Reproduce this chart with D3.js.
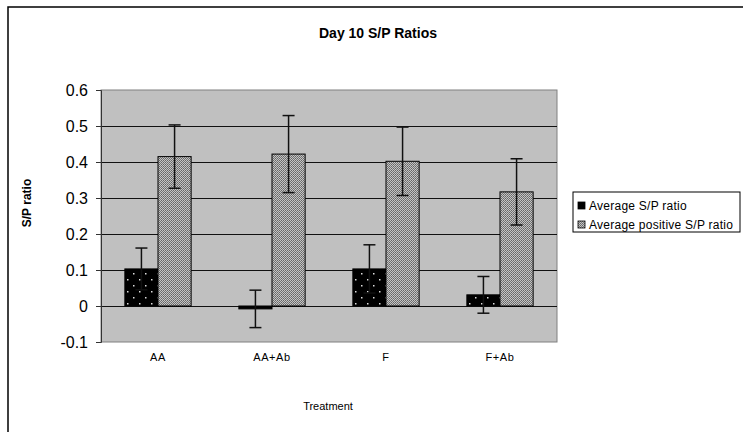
<!DOCTYPE html>
<html>
<head>
<meta charset="utf-8">
<script src="https://cdn.jsdelivr.net/npm/d3@7"></script>
<style>
  html, body { margin: 0; padding: 0; background: #fff; }
  svg { display: block; font-family: "Liberation Sans", Arial, sans-serif; }
</style>
</head>
<body>
<svg width="743" height="432"></svg>
<script>
const categories = ['AA', 'AA+Ab', 'F', 'F+Ab'];
const seriesNames = ['Average S/P ratio', 'Average positive S/P ratio'];
const avgRatio = [0.103, -0.008, 0.103, 0.031];
const avgRatioErr = [0.058, 0.052, 0.067, 0.051];
const posRatio = [0.415, 0.422, 0.402, 0.317];
const posRatioErr = [0.088, 0.107, 0.095, 0.092];
const yTicks = [-0.1, 0, 0.1, 0.2, 0.3, 0.4, 0.5, 0.6];

const svg = d3.select('svg');
const plot = { left: 101, right: 557, top: 90, bottom: 342 };

// patterns
const defs = svg.append('defs');
const dots = defs.append('pattern')
  .attr('id', 'dots')
  .attr('patternUnits', 'userSpaceOnUse')
  .attr('width', 12).attr('height', 12);
dots.append('rect').attr('width', 12).attr('height', 12).attr('fill', '#000');
dots.append('rect').attr('x', 2).attr('y', 3).attr('width', 1.5).attr('height', 1.5).attr('fill', '#ddd');
dots.append('rect').attr('x', 8).attr('y', 9).attr('width', 1.5).attr('height', 1.5).attr('fill', '#ddd');

const checker = defs.append('pattern')
  .attr('id', 'checker')
  .attr('patternUnits', 'userSpaceOnUse')
  .attr('width', 2).attr('height', 2);
checker.append('rect').attr('width', 2).attr('height', 2).attr('fill', '#c4c4c4');
checker.append('rect').attr('width', 1).attr('height', 1).attr('fill', '#666');
checker.append('rect').attr('x', 1).attr('y', 1).attr('width', 1).attr('height', 1).attr('fill', '#777');

// outer frame
svg.append('rect')
  .attr('x', 8).attr('y', 7)
  .attr('width', 760).attr('height', 460)
  .attr('fill', 'none')
  .attr('stroke', '#000')
  .attr('stroke-width', 1.5);

const x = d3.scaleBand()
  .domain(categories)
  .range([plot.left, plot.right]);

const x1 = d3.scaleBand()
  .domain(seriesNames)
  .range([0, x.bandwidth()])
  .paddingOuter(0.72)
  .paddingInner(0);

const y = d3.scaleLinear()
  .domain([-0.1, 0.6])
  .range([plot.bottom, plot.top]);

// plot background
svg.append('rect')
  .attr('x', plot.left).attr('y', plot.top)
  .attr('width', plot.right - plot.left)
  .attr('height', plot.bottom - plot.top)
  .attr('fill', '#c0c0c0')
  .attr('stroke', '#808080')
  .attr('stroke-width', 1);

// gridlines
svg.append('g')
  .selectAll('line')
  .data(yTicks.filter((d) => d > -0.1 && d < 0.6))
  .enter()
  .append('line')
  .attr('x1', plot.left).attr('x2', plot.right)
  .attr('y1', (d) => Math.round(y(d)) + 0.5)
  .attr('y2', (d) => Math.round(y(d)) + 0.5)
  .attr('stroke', '#111')
  .attr('stroke-width', 1);

// y axis
const yAxis = svg.append('g')
  .attr('transform', `translate(${plot.left},0)`)
  .call(d3.axisLeft(y).tickValues(yTicks).tickSize(5).tickPadding(8)
    .tickFormat((d) => (d === 0 ? '0' : d.toFixed(1))));
yAxis.select('.domain').attr('stroke', '#333');
yAxis.selectAll('.tick line').attr('stroke', '#333');
yAxis.selectAll('.tick text')
  .attr('font-size', 16)
  .attr('font-family', '"Liberation Sans", Arial, sans-serif')
  .attr('fill', '#000');

// bars
const rows = categories.map((c, i) => ({
  cat: c,
  vals: [
    { s: seriesNames[0], v: avgRatio[i], e: avgRatioErr[i], fill: 'url(#dots)' },
    { s: seriesNames[1], v: posRatio[i], e: posRatioErr[i], fill: 'url(#checker)' },
  ],
}));

const groups = svg.append('g')
  .selectAll('g')
  .data(rows)
  .enter()
  .append('g')
  .attr('transform', (d) => `translate(${x(d.cat)},0)`);

groups.selectAll('rect')
  .data((d) => d.vals)
  .enter()
  .append('rect')
  .attr('x', (d) => x1(d.s))
  .attr('y', (d) => y(Math.max(0, d.v)))
  .attr('width', x1.bandwidth())
  .attr('height', (d) => Math.max(1, Math.abs(y(d.v) - y(0))))
  .attr('fill', (d) => d.fill)
  .attr('stroke', '#000')
  .attr('stroke-width', 1);

// error bars
const errs = groups.selectAll('g.err')
  .data((d) => d.vals)
  .enter()
  .append('g')
  .attr('class', 'err')
  .attr('stroke', '#111')
  .attr('stroke-width', 1.5);

errs.append('line')
  .attr('x1', (d) => x1(d.s) + x1.bandwidth() / 2)
  .attr('x2', (d) => x1(d.s) + x1.bandwidth() / 2)
  .attr('y1', (d) => y(d.v + d.e))
  .attr('y2', (d) => y(d.v - d.e));

[1, -1].forEach((sign) => {
  errs.append('line')
    .attr('x1', (d) => x1(d.s) + x1.bandwidth() / 2 - 6)
    .attr('x2', (d) => x1(d.s) + x1.bandwidth() / 2 + 6)
    .attr('y1', (d) => y(d.v + sign * d.e))
    .attr('y2', (d) => y(d.v + sign * d.e));
});

// category labels
svg.append('g')
  .selectAll('text')
  .data(categories)
  .enter()
  .append('text')
  .attr('x', (d) => x(d) + x.bandwidth() / 2)
  .attr('y', plot.bottom + 19)
  .attr('text-anchor', 'middle')
  .attr('font-size', 11)
  .attr('letter-spacing', 0.6)
  .text((d) => d);

// titles
svg.append('text')
  .attr('x', 378).attr('y', 38)
  .attr('text-anchor', 'middle')
  .attr('font-size', 14)
  .attr('font-weight', 'bold')
  .text('Day 10 S/P Ratios');

svg.append('text')
  .attr('x', 328).attr('y', 410)
  .attr('text-anchor', 'middle')
  .attr('font-size', 11)
  .text('Treatment');

svg.append('text')
  .attr('transform', 'translate(31,203) rotate(-90)')
  .attr('text-anchor', 'middle')
  .attr('font-size', 12)
  .attr('font-weight', 'bold')
  .text('S/P ratio');

// legend
const legend = svg.append('g').attr('transform', 'translate(573,192)');
legend.append('rect')
  .attr('width', 167).attr('height', 40)
  .attr('fill', '#fff')
  .attr('stroke', '#000');

const legendItems = legend.selectAll('g')
  .data(seriesNames)
  .enter()
  .append('g')
  .attr('transform', (d, i) => `translate(5,${14 + i * 19})`);

legendItems.append('rect')
  .attr('y', -4)
  .attr('width', 7).attr('height', 7)
  .attr('fill', (d, i) => (i === 0 ? '#000' : 'url(#checker)'))
  .attr('stroke', '#000')
  .attr('stroke-width', 0.8);

legendItems.append('text')
  .attr('x', 11)
  .attr('dy', '0.35em')
  .attr('font-size', 12)
  .attr('letter-spacing', 0.25)
  .text((d) => d);
</script>
</body>
</html>
